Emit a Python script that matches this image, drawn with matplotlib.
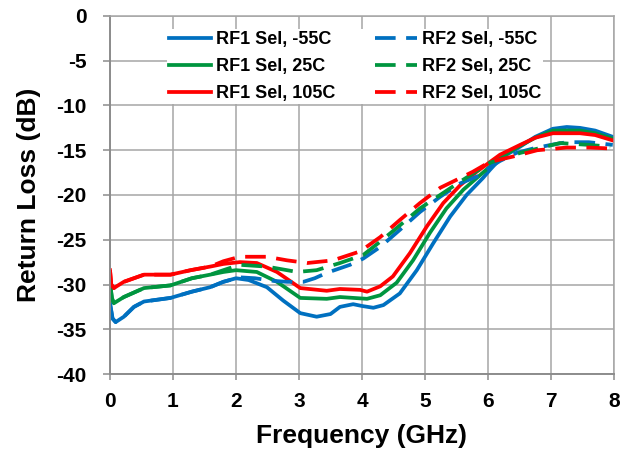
import matplotlib
matplotlib.use('Agg')
import matplotlib.pyplot as plt

plt.rcParams['font.family'] = ['Liberation Sans', 'DejaVu Sans']
plt.rcParams['font.weight'] = 'bold'
plt.rcParams['axes.unicode_minus'] = False

# RF1 Sel (solid)
rf1_m55_x = [0.0, 0.04, 0.09, 0.22, 0.38, 0.54, 0.96, 1.3, 1.59, 1.8, 2.0, 2.2, 2.49, 2.75,
             3.02, 3.28, 3.5, 3.65, 3.86, 4.0, 4.18, 4.34, 4.6, 4.87, 5.13, 5.4, 5.66, 5.92,
             6.03, 6.2, 6.51, 6.75, 7.03, 7.25, 7.46, 7.7, 7.98]
rf1_m55_y = [-32.1, -33.8, -34.2, -33.6, -32.5, -31.9, -31.5, -30.8, -30.3, -29.7, -29.3, -29.5,
             -30.3, -31.8, -33.2, -33.6, -33.3, -32.5, -32.2, -32.4, -32.6, -32.3, -31.0, -28.4,
             -25.4, -22.4, -20.0, -18.1, -17.2, -15.9, -14.6, -13.5, -12.6, -12.4, -12.5, -12.8,
             -13.5]

rf1_25_x = [0.0, 0.03, 0.06, 0.22, 0.54, 0.96, 1.3, 1.59, 1.8, 2.0, 2.33, 2.65, 3.02, 3.44,
            3.65, 4.08, 4.29, 4.55, 4.81, 5.08, 5.34, 5.61, 5.87, 6.2, 6.51, 6.75, 7.03, 7.46,
            7.7, 7.98]
rf1_25_y = [-29.8, -31.5, -32.1, -31.4, -30.4, -30.1, -29.3, -28.9, -28.6, -28.4, -28.6, -29.7,
            -31.5, -31.6, -31.4, -31.6, -31.2, -29.8, -27.3, -24.2, -21.5, -19.4, -17.8, -15.8,
            -14.5, -13.6, -12.8, -12.8, -13.1, -13.7]

rf1_105_x = [0.0, 0.02, 0.06, 0.22, 0.54, 0.96, 1.28, 1.59, 1.8, 2.06, 2.33, 2.65, 3.02, 3.44,
             3.65, 3.97, 4.08, 4.29, 4.49, 4.76, 5.03, 5.29, 5.56, 5.82, 6.19, 6.51, 6.75, 7.03,
             7.46, 7.7, 7.98]
rf1_105_y = [-28.4, -30.0, -30.4, -29.7, -28.9, -28.9, -28.4, -28.0, -27.7, -27.5, -27.6, -28.6,
             -30.4, -30.7, -30.5, -30.6, -30.8, -30.2, -29.1, -26.5, -23.5, -20.9, -18.9, -17.4,
             -15.5, -14.4, -13.6, -13.1, -13.1, -13.3, -13.9]

# RF2 Sel (dashed)
rf2_m55_x = [0.0, 0.04, 0.09, 0.22, 0.38, 0.54, 0.96, 1.3, 1.59, 1.8, 2.06, 2.3, 2.6, 2.81,
             3.07, 3.25, 3.44, 3.81, 4.02, 4.29, 4.6, 4.92, 5.24, 5.56, 5.87, 6.03, 6.19, 6.45,
             6.72, 7.0, 7.25, 7.6, 7.98]
rf2_m55_y = [-32.1, -33.8, -34.2, -33.6, -32.5, -31.9, -31.5, -30.8, -30.3, -29.7, -29.2, -29.3,
             -29.6, -29.7, -29.7, -29.3, -28.7, -27.8, -27.1, -25.8, -23.9, -21.9, -20.2, -18.7,
             -17.8, -16.9, -16.2, -15.3, -14.8, -14.4, -14.1, -14.1, -14.4]

rf2_25_x = [0.0, 0.03, 0.06, 0.22, 0.54, 0.96, 1.3, 1.59, 1.8, 2.06, 2.49, 2.97, 3.28, 3.65,
            4.02, 4.29, 4.6, 4.92, 5.24, 5.56, 6.03, 6.51, 7.14, 7.6, 7.94]
rf2_25_y = [-29.8, -31.5, -32.1, -31.4, -30.4, -30.1, -29.3, -28.9, -28.4, -27.8, -28.0, -28.6,
            -28.4, -27.6, -26.7, -25.2, -23.4, -21.5, -20.0, -18.5, -16.4, -15.3, -14.2, -14.4,
            -14.6]

rf2_105_x = [0.0, 0.02, 0.06, 0.22, 0.54, 0.96, 1.28, 1.59, 1.8, 2.06, 2.49, 2.81, 3.13, 3.54,
             3.97, 4.29, 4.6, 4.92, 5.24, 5.56, 5.76, 6.03, 6.4, 6.78, 7.25, 7.6, 7.94]
rf2_105_y = [-28.4, -30.0, -30.4, -29.7, -28.9, -28.9, -28.4, -28.0, -27.4, -26.9, -26.9, -27.3,
             -27.6, -27.3, -26.3, -24.7, -22.8, -20.9, -19.2, -18.1, -17.4, -16.3, -15.7, -15.0,
             -14.7, -14.7, -14.8]

x_ticks = [0, 1, 2, 3, 4, 5, 6, 7, 8]
y_ticks = [0, -5, -10, -15, -20, -25, -30, -35, -40]

blue = '#0070C0'
green = '#00953F'
red = '#FF0000'
grid_c = '#A6A6A6'

fig = plt.figure(figsize=(6.2, 4.51), dpi=100)
ax = fig.add_axes([110 / 620, 77 / 451, 504 / 620, 358 / 451])

lw = 2.7
dash = (5.5, 2.8)
ax.plot(rf1_m55_x, rf1_m55_y, color=blue, lw=lw, label='RF1 Sel, -55C')
ax.plot(rf1_25_x, rf1_25_y, color=green, lw=lw, label='RF1 Sel, 25C')
ax.plot(rf1_105_x, rf1_105_y, color=red, lw=lw, label='RF1 Sel, 105C')
ax.plot(rf2_m55_x, rf2_m55_y, color=blue, lw=lw, dashes=dash, label='RF2 Sel, -55C')
ax.plot(rf2_25_x, rf2_25_y, color=green, lw=lw, dashes=dash, label='RF2 Sel, 25C')
ax.plot(rf2_105_x, rf2_105_y, color=red, lw=lw, dashes=dash, label='RF2 Sel, 105C')

ax.set_xlim(0, 8)
ax.set_ylim(-40, 0)
ax.set_xticks(x_ticks)
ax.set_yticks(y_ticks)
ax.grid(True, color=grid_c, lw=1.1)
ax.set_axisbelow(True)
for s in ax.spines.values():
    s.set_color(grid_c)
    s.set_linewidth(1.1)
ax.spines['left'].set_color('#8C8C8C')
ax.spines['bottom'].set_color('#8C8C8C')
ax.spines['left'].set_linewidth(1.4)
ax.spines['bottom'].set_linewidth(1.4)
ax.tick_params(axis='both', direction='out', color='#8C8C8C', width=1.1, labelsize=15)
ax.tick_params(axis='x', length=4, pad=9)
ax.tick_params(axis='y', length=5, pad=12)
for lab in ax.get_xticklabels() + ax.get_yticklabels():
    lab.set_fontweight('bold')

ax.set_xlabel('Frequency (GHz)', fontsize=19, fontweight='bold', labelpad=9)
ax.set_ylabel('Return Loss (dB)', fontsize=19, fontweight='bold', labelpad=11)

leg = ax.legend(ncol=2, loc='upper center', bbox_to_anchor=(0.487, 0.988),
                fontsize=13, frameon=True, fancybox=False, framealpha=1,
                edgecolor='none', facecolor='white', handlelength=2.3,
                handletextpad=0.3, columnspacing=2.2, labelspacing=0.56,
                borderpad=0.1)
for t in leg.get_texts():
    t.set_fontweight('bold')

fig.savefig('out.png', dpi=100)
